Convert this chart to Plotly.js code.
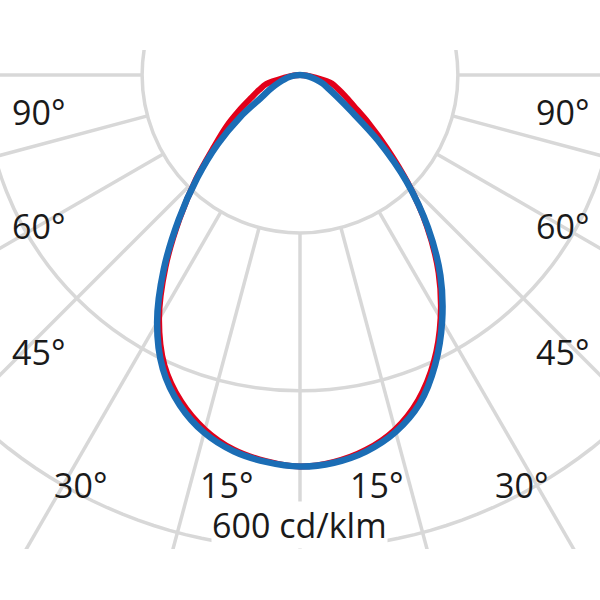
<!DOCTYPE html>
<html><head><meta charset="utf-8">
<script src="https://cdn.plot.ly/plotly-3.0.1.min.js"></script>
<style>
html,body{margin:0;padding:0;background:#fff;width:600px;height:600px;overflow:hidden}
#wrap{position:absolute;left:0;top:50px;width:600px;height:499px;overflow:hidden}
#plot{position:absolute;left:-300px;top:-575px;width:1200px;height:1200px}
</style></head><body>
<div id="wrap"><div id="plot"></div></div>
<script>
// Polar angles (degrees from nadir) for one half-plane
const gamma = [0,5,10,15,20,25,30,35,40,45,50,55,60,65,70,75,80,85,90];
// Red curve (C0/C180), cd/klm
const redRight = [496,492,482,465,438,401,356,306,250,193,143,106,79,63,51,42,20,8,0];
const redLeft  = [496,491,482,465,440,406,357,297,237,186,143,114,88,68,55,44,20,8,0];
// Blue curve (C90/C270), cd/klm
const blueRight = [496,493,484,468,443,405,360,310,252,191,129,78,53,39,30,20,12,5,0];
const blueLeft  = [496,492,484,469,445,411,362,301,239,184,136,92,56,41,29,20,13,6,0];
// Grid
const spokeAngles = [-90,-75,-60,-45,-30,-15,0,15,30,45,60,75,90];
const ringValues = [200,400];
const outerRing = 600;
const rMax = 760;
// Labels
const sideLabels = ['90°','60°','45°','30°','15°'];
const unitLabel = '600 cd/klm';

function fullTheta(){ return gamma.slice().reverse().map(g=>-g).concat(gamma.slice(1)); }
function fullR(left,right){ return left.slice().reverse().concat(right.slice(1)); }

const traces = [];
spokeAngles.forEach(a=>{
  traces.push({type:'scatterpolar',mode:'lines',r:[ringValues[0],rMax],theta:[a,a],
    line:{color:'#d8d8d8',width:3.5},hoverinfo:'skip',showlegend:false});
});
const ringTheta=[]; for(let t=8;t<=352;t+=2) ringTheta.push(t);
traces.push({type:'scatterpolar',mode:'lines',r:ringTheta.map(()=>outerRing),theta:ringTheta,
  line:{color:'#d8d8d8',width:3.5},hoverinfo:'skip',showlegend:false});
traces.push({type:'scatterpolar',mode:'lines',r:fullR(redLeft,redRight),theta:fullTheta(),
  line:{color:'#e2001a',width:6,shape:'spline',smoothing:0.9},showlegend:false});
traces.push({type:'scatterpolar',mode:'lines',r:fullR(blueLeft,blueRight),theta:fullTheta(),
  line:{color:'#1b6db5',width:6.5,shape:'spline',smoothing:0.9},showlegend:false});

function px(vx){ return (vx+300)/1200; }
function py(vy){ return 1-(vy+525)/1200; }
const font={family:'Open Sans, sans-serif',size:34,color:'#1a1a1a'};
const pos = [[39,562,112],[39,562,226],[39,562,352],[80,521,485],[226,376,485]];
const annotations=[];
sideLabels.forEach((t,i)=>{
  annotations.push({text:t,x:px(pos[i][0]),y:py(pos[i][2]),xref:'paper',yref:'paper',showarrow:false,xanchor:'center',yanchor:'middle',font:font});
  annotations.push({text:t,x:px(pos[i][1]),y:py(pos[i][2]),xref:'paper',yref:'paper',showarrow:false,xanchor:'center',yanchor:'middle',font:font});
});
annotations.push({text:unitLabel,x:px(299),y:py(525),xref:'paper',yref:'paper',showarrow:false,xanchor:'center',yanchor:'middle',
  font:{family:'Open Sans, sans-serif',size:34,color:'#1a1a1a'},bgcolor:'#ffffff',borderpad:0});

const layout={width:1200,height:1200,margin:{l:0,r:0,t:0,b:0},paper_bgcolor:'#fff',showlegend:false,
  polar:{domain:{x:[0,1],y:[0,1]},bgcolor:'#fff',
    radialaxis:{range:[0,rMax],tickvals:ringValues,showgrid:true,gridcolor:'#d8d8d8',gridwidth:3.5,showline:false,showticklabels:false,ticks:''},
    angularaxis:{rotation:-90,direction:'counterclockwise',showgrid:false,showline:false,showticklabels:false,ticks:''}},
  annotations:annotations};
Plotly.newPlot('plot',traces,layout,{staticPlot:true,displayModeBar:false});
</script></body></html>
